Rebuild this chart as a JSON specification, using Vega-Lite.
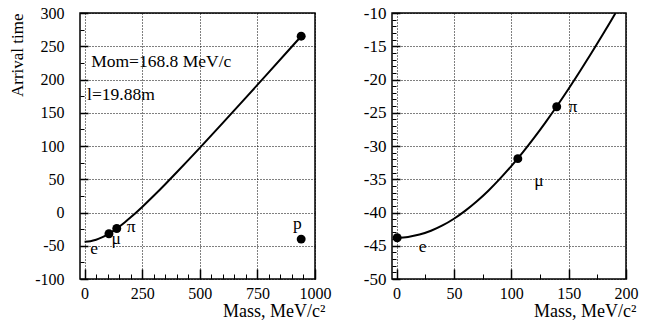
{
  "$schema": "https://vega.github.io/schema/vega-lite/v6.json",
  "padding": {"left": 7, "top": 3, "right": 0, "bottom": 0},
  "spacing": 30,
  "config": {
    "font": "Liberation Serif",
    "view": {"stroke": "black", "strokeWidth": 1.5},
    "text": {"font": "Liberation Serif"},
    "axis": {
      "labelFont": "Liberation Serif",
      "titleFont": "Liberation Serif",
      "labelColor": "black",
      "titleColor": "black",
      "labelFontSize": 16,
      "titleFontSize": 17,
      "titleFontWeight": "normal",
      "domain": false,
      "gridColor": "black",
      "gridDash": [1, 2],
      "gridOpacity": 1,
      "gridWidth": 1,
      "tickColor": "black",
      "tickOpacity": 1,
      "labelFlush": false,
      "labelOverlap": false
    }
  },
  "datasets": {
    "curveL": [
      {"m": 0, "t": -43.8}, {"m": 25, "t": -43.07}, {"m": 50, "t": -40.94}, {"m": 75, "t": -37.54},
      {"m": 100, "t": -33.02}, {"m": 125, "t": -27.59}, {"m": 150, "t": -21.39}, {"m": 175, "t": -14.58},
      {"m": 200, "t": -7.29}, {"m": 250, "t": 8.4}, {"m": 300, "t": 25.13}, {"m": 350, "t": 42.55},
      {"m": 400, "t": 60.46}, {"m": 450, "t": 78.71}, {"m": 500, "t": 97.21}, {"m": 600, "t": 134.76},
      {"m": 700, "t": 172.77}, {"m": 800, "t": 211.09}, {"m": 900, "t": 249.63}, {"m": 940, "t": 265.08}
    ],
    "ptsL": [
      {"m": 105.7, "t": -31.9}, {"m": 139.6, "t": -24.1}, {"m": 940, "t": 265.1}, {"m": 940, "t": -40}
    ],
    "labL": [
      {"m": 41, "t": -61.7, "label": "e"}, {"m": 137, "t": -47.4, "label": "μ"},
      {"m": 202, "t": -30, "label": "π"}, {"m": 924, "t": -24.8, "label": "p"}
    ],
    "infoL": [
      {"m": 28.3, "t": 219.3, "label": "Mom=168.8 MeV/c"}, {"m": 10.9, "t": 169.2, "label": "l=19.88m"}
    ],
    "curveR": [
      {"m": 0, "t": -43.8}, {"m": 10, "t": -43.67}, {"m": 20, "t": -43.32}, {"m": 30, "t": -42.75},
      {"m": 40, "t": -41.95}, {"m": 50, "t": -40.94}, {"m": 60, "t": -39.72}, {"m": 70, "t": -38.31},
      {"m": 80, "t": -36.72}, {"m": 90, "t": -34.95}, {"m": 100, "t": -33.02}, {"m": 110, "t": -30.95},
      {"m": 120, "t": -28.74}, {"m": 130, "t": -26.4}, {"m": 140, "t": -23.95}, {"m": 150, "t": -21.39},
      {"m": 160, "t": -18.73}, {"m": 170, "t": -15.99}, {"m": 180, "t": -13.16}, {"m": 190, "t": -10.26},
      {"m": 191, "t": -9.96}
    ],
    "ptsR": [
      {"m": 0.5, "t": -43.8}, {"m": 105.7, "t": -31.9}, {"m": 139.6, "t": -24.1}
    ],
    "labR": [
      {"m": 22.7, "t": -45.9, "label": "e"}, {"m": 124.2, "t": -36.0, "label": "μ"},
      {"m": 153.8, "t": -24.9, "label": "π"}
    ]
  },
  "hconcat": [
    {
      "width": 235,
      "height": 266,
      "resolve": {"axis": {"x": "independent", "y": "independent"}},
      "layer": [
        {
          "data": {"name": "curveL"},
          "mark": {"type": "line", "color": "black", "strokeWidth": 2, "interpolate": "monotone", "clip": true},
          "encoding": {
            "x": {"field": "m", "type": "quantitative", "scale": {"domain": [-20, 1000], "nice": false, "zero": false},
              "axis": {"orient": "bottom", "values": [0, 250, 500, 750, 1000], "ticks": false, "tickSize": 0, "labelPadding": 6,
                "labelFont": "Liberation Serif", "titleFont": "Liberation Serif", "labelExpr": "'' + datum.value",
                "grid": true, "labelFlush": false, "title": "Mass, MeV/c²", "titleFontSize": 18, "titleAlign": "right", "titleAnchor": "end", "titleX": 245, "titlePadding": 1}},
            "y": {"field": "t", "type": "quantitative", "scale": {"domain": [-100, 300], "nice": false, "zero": false},
              "axis": {"orient": "left", "values": [-100, -50, 0, 50, 100, 150, 200, 250, 300], "ticks": false, "tickSize": 0, "labelPadding": 16,
                "labelFont": "Liberation Serif", "titleFont": "Liberation Serif",
                "grid": true, "labelExpr": "'' + datum.value", "title": "Arrival time", "titleAnchor": "end", "titlePadding": 8}}
          }
        },
        {
          "data": {"name": "ptsL"},
          "mark": {"type": "circle", "color": "black", "size": 80, "opacity": 1},
          "encoding": {
            "x": {"field": "m", "type": "quantitative", "scale": {"domain": [-20, 1000], "nice": false, "zero": false},
              "axis": {"orient": "top", "offset": -266, "values": [0, 250, 500, 750, 1000], "labels": false, "grid": false, "title": null, "ticks": true, "tickSize": 10, "tickWidth": 1.5}},
            "y": {"field": "t", "type": "quantitative", "scale": {"domain": [-100, 300], "nice": false, "zero": false},
              "axis": {"orient": "right", "offset": -235, "values": [-100, -50, 0, 50, 100, 150, 200, 250, 300], "labels": false, "grid": false, "title": null, "ticks": true, "tickSize": 8, "tickWidth": 1.5}}
          }
        },
        {
          "data": {"name": "labL"},
          "mark": {"type": "text", "font": "Liberation Serif", "fontSize": 17.5, "align": "center", "baseline": "alphabetic", "color": "black"},
          "encoding": {
            "x": {"field": "m", "type": "quantitative", "scale": {"domain": [-20, 1000], "nice": false, "zero": false},
              "axis": {"orient": "top", "offset": -266, "values": [50, 100, 150, 200, 300, 350, 400, 450, 550, 600, 650, 700, 800, 850, 900, 950], "labels": false, "grid": false, "title": null, "ticks": true, "tickSize": 5, "tickWidth": 1}},
            "y": {"field": "t", "type": "quantitative", "scale": {"domain": [-100, 300], "nice": false, "zero": false},
              "axis": {"orient": "right", "offset": -235, "values": [-75, -25, 25, 75, 125, 175, 225, 275], "labels": false, "grid": false, "title": null, "ticks": true, "tickSize": 4, "tickWidth": 1}},
            "text": {"field": "label"}
          }
        },
        {
          "data": {"name": "infoL"},
          "mark": {"type": "text", "font": "Liberation Serif", "fontSize": 17.5, "align": "left", "baseline": "alphabetic", "color": "black"},
          "encoding": {
            "x": {"field": "m", "type": "quantitative", "scale": {"domain": [-20, 1000], "nice": false, "zero": false}, "axis": null},
            "y": {"field": "t", "type": "quantitative", "scale": {"domain": [-100, 300], "nice": false, "zero": false}, "axis": null},
            "text": {"field": "label"}
          }
        }
      ]
    },
    {
      "width": 234,
      "height": 266,
      "resolve": {"axis": {"x": "independent", "y": "independent"}},
      "layer": [
        {
          "data": {"name": "curveR"},
          "mark": {"type": "line", "color": "black", "strokeWidth": 2, "interpolate": "monotone", "clip": true},
          "encoding": {
            "x": {"field": "m", "type": "quantitative", "scale": {"domain": [-4, 200], "nice": false, "zero": false},
              "axis": {"orient": "bottom", "values": [0, 50, 100, 150, 200], "ticks": false, "tickSize": 0, "labelPadding": 6,
                "labelFont": "Liberation Serif", "titleFont": "Liberation Serif", "labelExpr": "'' + datum.value",
                "grid": true, "labelFlush": false, "title": "Mass, MeV/c²", "titleFontSize": 18, "titleAlign": "right", "titleAnchor": "end", "titleX": 244, "titlePadding": 1}},
            "y": {"field": "t", "type": "quantitative", "scale": {"domain": [-50, -10], "nice": false, "zero": false},
              "axis": {"orient": "left", "values": [-50, -45, -40, -35, -30, -25, -20, -15, -10], "ticks": false, "tickSize": 0, "labelPadding": 6,
                "labelFont": "Liberation Serif",
                "grid": true, "labelExpr": "'' + datum.value", "labelFontSize": 17, "title": null}}
          }
        },
        {
          "data": {"name": "ptsR"},
          "mark": {"type": "circle", "color": "black", "size": 80, "opacity": 1},
          "encoding": {
            "x": {"field": "m", "type": "quantitative", "scale": {"domain": [-4, 200], "nice": false, "zero": false},
              "axis": {"orient": "top", "offset": -266, "values": [0, 50, 100, 150, 200], "labels": false, "grid": false, "title": null, "ticks": true, "tickSize": 10, "tickWidth": 1.5}},
            "y": {"field": "t", "type": "quantitative", "scale": {"domain": [-50, -10], "nice": false, "zero": false},
              "axis": {"orient": "right", "offset": -234, "values": [-50, -45, -40, -35, -30, -25, -20, -15, -10], "labels": false, "grid": false, "title": null, "ticks": true, "tickSize": 8, "tickWidth": 1.5}}
          }
        },
        {
          "data": {"name": "labR"},
          "mark": {"type": "text", "font": "Liberation Serif", "fontSize": 17.5, "align": "center", "baseline": "alphabetic", "color": "black"},
          "encoding": {
            "x": {"field": "m", "type": "quantitative", "scale": {"domain": [-4, 200], "nice": false, "zero": false},
              "axis": {"orient": "top", "offset": -266, "values": [25, 75, 125, 175], "labels": false, "grid": false, "title": null, "ticks": true, "tickSize": 5, "tickWidth": 1}},
            "y": {"field": "t", "type": "quantitative", "scale": {"domain": [-50, -10], "nice": false, "zero": false},
              "axis": {"orient": "right", "offset": -234, "values": [-49, -48, -47, -46, -44, -43, -42, -41, -39, -38, -37, -36, -34, -33, -32, -31, -29, -28, -27, -26, -24, -23, -22, -21, -19, -18, -17, -16, -14, -13, -12, -11], "labels": false, "grid": false, "title": null, "ticks": true, "tickSize": 4, "tickWidth": 1}},
            "text": {"field": "label"}
          }
        }
      ]
    }
  ]
}
